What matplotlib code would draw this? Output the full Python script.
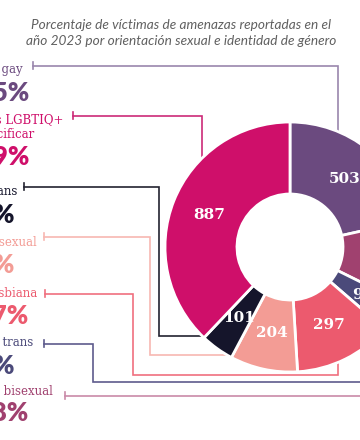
import numpy as np
import matplotlib.pyplot as plt

# datos (sentido horario desde las 12)
categorias = ['Hombre gay', 'Mujer bisexual', 'Hombre trans', 'Mujer lesbiana',
              'Hombre bisexual', 'Mujer trans', 'Personas LGBTIQ+\nsin especificar']
victimas = [503, 253, 94, 297, 204, 101, 887]
colores = ['#6b4a7f', '#a0416f', '#4b4a7a', '#ec5a6e', '#f39c95', '#15152b', '#cf0f6a']
lineas = ['#9a86ad', '#c98aa8', '#5d5b8c', '#f0707f', '#f7b8b2', '#222230', '#cc2a78']

titulo = ('Porcentaje de víctimas de amenazas reportadas en el\n'
          'año 2023 por orientación sexual e identidad de género')

# layout (pixeles, origen arriba a la izquierda)
centro = (290, 247)
radio = 125
grosor = 72
orden_izq = [0, 6, 5, 4, 3, 2, 1]          # orden de las etiquetas de arriba a abajo
nombre_fin = [23, 63, 17, 37, 37, 33, 53]
nombre_y = [70, 127, 191, 242, 293, 342, 391]
pct_x0 = -43
pct_y = [93, 157, 215, 265, 316, 366, 413]
rutas = [
    [(33, 66), (338, 66), (338, 140)],
    [(73, 116), (202, 116), (202, 165)],
    [(24, 187), (159, 187), (159, 336), (212, 336)],
    [(44, 237), (150, 237), (150, 355), (230, 355)],
    [(45, 294), (133, 294), (133, 375), (338, 375), (338, 358)],
    [(44, 344), (93, 344), (93, 382), (365, 382)],
    [(65, 396), (365, 396)],
]

total = sum(victimas)

fig = plt.figure(figsize=(3.6, 4.4), dpi=100)
ax = fig.add_axes([0, 0, 1, 1])

wedges, _, numeros = ax.pie(victimas, colors=colores, startangle=-90, counterclock=True,
                            center=centro, radius=radio, frame=True,
                            wedgeprops=dict(width=grosor, edgecolor='white', linewidth=2),
                            autopct=lambda p: f'{p * total / 100:.0f}', pctdistance=0.7)
for t in numeros:
    t.set_color('white')
    t.set_fontsize(11)
    t.set_fontweight('bold')
    t.set_family('DejaVu Serif')
for w in wedges:
    w.set_zorder(3)

ax.set_aspect('auto')
ax.set_xlim(0, 360)
ax.set_ylim(440, 0)
ax.axis('off')

for k, i in enumerate(orden_izq):
    ruta = np.array(rutas[k])
    ax.plot(ruta[:, 0], ruta[:, 1], color=lineas[i], lw=1.2, zorder=1,
            solid_joinstyle='miter')
    x0, y0 = ruta[0]
    ax.plot([x0, x0], [y0 - 3.5, y0 + 3.5], color=lineas[i], lw=1.2, zorder=1)
    ax.text(nombre_fin[k], nombre_y[k], categorias[i], ha='right', va='center',
            multialignment='left', color=colores[i], fontsize=8.5,
            family='DejaVu Serif', linespacing=1.15)
    pct = f'{victimas[i] / total * 100:.1f}%'.replace('.', ',')
    ax.text(pct_x0, pct_y[k], pct, ha='left', va='center', color=colores[i],
            fontsize=18.5, family='Lato', fontweight='heavy')

ax.text(181, 33, titulo, ha='center', va='center', fontsize=9.8, color='#606060',
        style='italic', family='Lato', linespacing=1.35)

fig.savefig('out.png', dpi=100, facecolor='white')
